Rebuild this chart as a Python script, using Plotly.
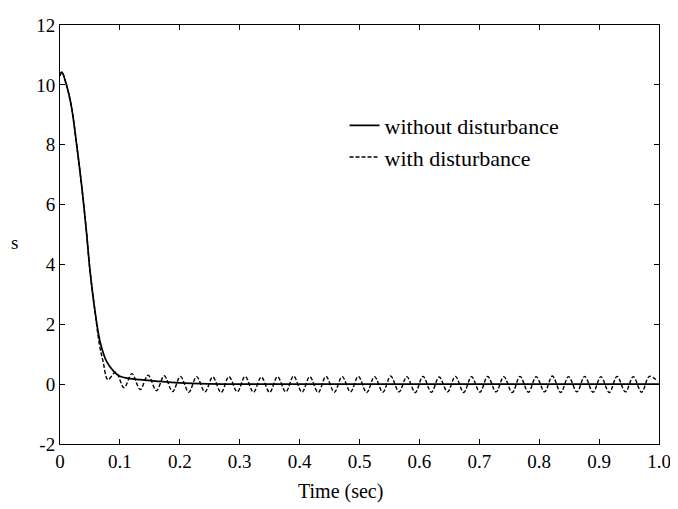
import plotly.graph_objects as go

# without disturbance
t_smooth = [0, 0.003, 0.01, 0.019, 0.028, 0.036, 0.044, 0.05, 0.058, 0.067,
            0.078, 0.09, 0.1, 0.115, 0.133, 0.16, 0.2, 0.25, 0.3, 0.4,
            0.5, 0.6, 0.7, 0.8, 0.9, 1.0]
s_smooth = [10.3, 10.43, 10.05, 9.28, 7.97, 6.66, 5.12, 3.81, 2.5, 1.41,
            0.75, 0.42, 0.26, 0.19, 0.15, 0.1, 0.04, 0.01, 0.0, 0.0,
            0.0, 0.0, 0.0, 0.0, 0.0, 0.0]

# with disturbance: decay part, then the peaks / troughs of the ripple
t_dist = [0, 0.003, 0.01, 0.019, 0.028, 0.036, 0.044, 0.05, 0.058, 0.066,
          0.072, 0.080, 0.093, 0.107, 0.120, 0.134, 0.147, 0.161, 0.174,
          0.188, 0.201, 0.215, 0.228, 0.242, 0.255, 0.269, 0.282, 0.296,
          0.309, 0.323, 0.336, 0.350, 0.363, 0.377, 0.390, 0.404, 0.417,
          0.431, 0.444, 0.458, 0.471, 0.485, 0.498, 0.512, 0.525, 0.539,
          0.552, 0.566, 0.579, 0.593, 0.606, 0.620, 0.633, 0.647, 0.660,
          0.674, 0.687, 0.701, 0.714, 0.728, 0.741, 0.755, 0.768, 0.782,
          0.795, 0.809, 0.822, 0.836, 0.849, 0.863, 0.876, 0.890, 0.903,
          0.917, 0.930, 0.944, 0.957, 0.971, 0.984, 0.998]
s_dist = [10.3, 10.43, 10.05, 9.28, 7.97, 6.66, 5.12, 3.81, 2.5, 1.3,
          0.75, 0.15, 0.4, -0.12, 0.35, -0.18, 0.3, -0.22, 0.28,
          -0.25, 0.26, -0.27, 0.25, -0.26, 0.24, -0.28, 0.25, -0.26,
          0.26, -0.27, 0.24, -0.28, 0.25, -0.26, 0.27, -0.27, 0.25,
          -0.28, 0.26, -0.27, 0.25, -0.26, 0.26, -0.28, 0.25, -0.27,
          0.27, -0.26, 0.25, -0.28, 0.26, -0.27, 0.24, -0.26, 0.26,
          -0.28, 0.25, -0.27, 0.26, -0.26, 0.25, -0.28, 0.26, -0.27,
          0.25, -0.26, 0.27, -0.28, 0.25, -0.26, 0.26, -0.27, 0.25,
          -0.28, 0.26, -0.26, 0.25, -0.27, 0.26, 0.1]

x_ticks = [0, 0.1, 0.2, 0.3, 0.4, 0.5, 0.6, 0.7, 0.8, 0.9, 1.0]
x_tick_labels = ["0", "0.1", "0.2", "0.3", "0.4", "0.5", "0.6", "0.7", "0.8", "0.9", "1.0"]
y_ticks = [-2, 0, 2, 4, 6, 8, 10, 12]
y_tick_labels = ["-2", "0", "2", "4", "6", "8", "10", "12"]

serif = "Liberation Serif, Times New Roman, serif"

fig = go.Figure()
fig.add_trace(go.Scatter(
    x=t_smooth, y=s_smooth, mode="lines", name="without disturbance",
    line=dict(color="black", width=1.7, shape="spline"),
    legendgroup="a",
))
fig.add_trace(go.Scatter(
    x=t_dist, y=s_dist, mode="lines", name="with disturbance",
    line=dict(color="black", width=1.4, dash="4px,2px", shape="spline", smoothing=1),
    legendgroup="b",
))

axis_common = dict(
    showgrid=False, zeroline=False, showline=True, linecolor="black",
    linewidth=1, mirror="ticks", ticks="inside", ticklen=5, tickcolor="black",
    tickfont=dict(family=serif, size=19, color="black"),
    ticklabeloverflow="allow",
)

# page body has an 8px margin, so the figure is shrunk to fit the window
fig.update_layout(
    width=670, height=501,
    margin=dict(l=52, r=19, t=7, b=65),
    paper_bgcolor="white", plot_bgcolor="white",
    font=dict(family=serif, size=19, color="black"),
    xaxis=dict(range=[0, 1.0], tickvals=x_ticks, ticktext=x_tick_labels, **axis_common),
    yaxis=dict(range=[-2, 12], tickvals=y_ticks, ticktext=y_tick_labels, **axis_common),
    legend=dict(
        x=0.475, y=0.81, xanchor="left", yanchor="top",
        bgcolor="rgba(0,0,0,0)", tracegroupgap=0,
        font=dict(family=serif, size=22, color="black"),
    ),
    annotations=[
        dict(text="s", x=-0.085, y=0.48, xref="paper", yref="paper",
             yanchor="middle", showarrow=False, font=dict(family=serif, size=19)),
        dict(text="Time (sec)", x=0.469, y=-0.114, xref="paper", yref="paper",
             yanchor="middle", showarrow=False, font=dict(family=serif, size=20)),
    ],
)

fig.write_html("out.html")
